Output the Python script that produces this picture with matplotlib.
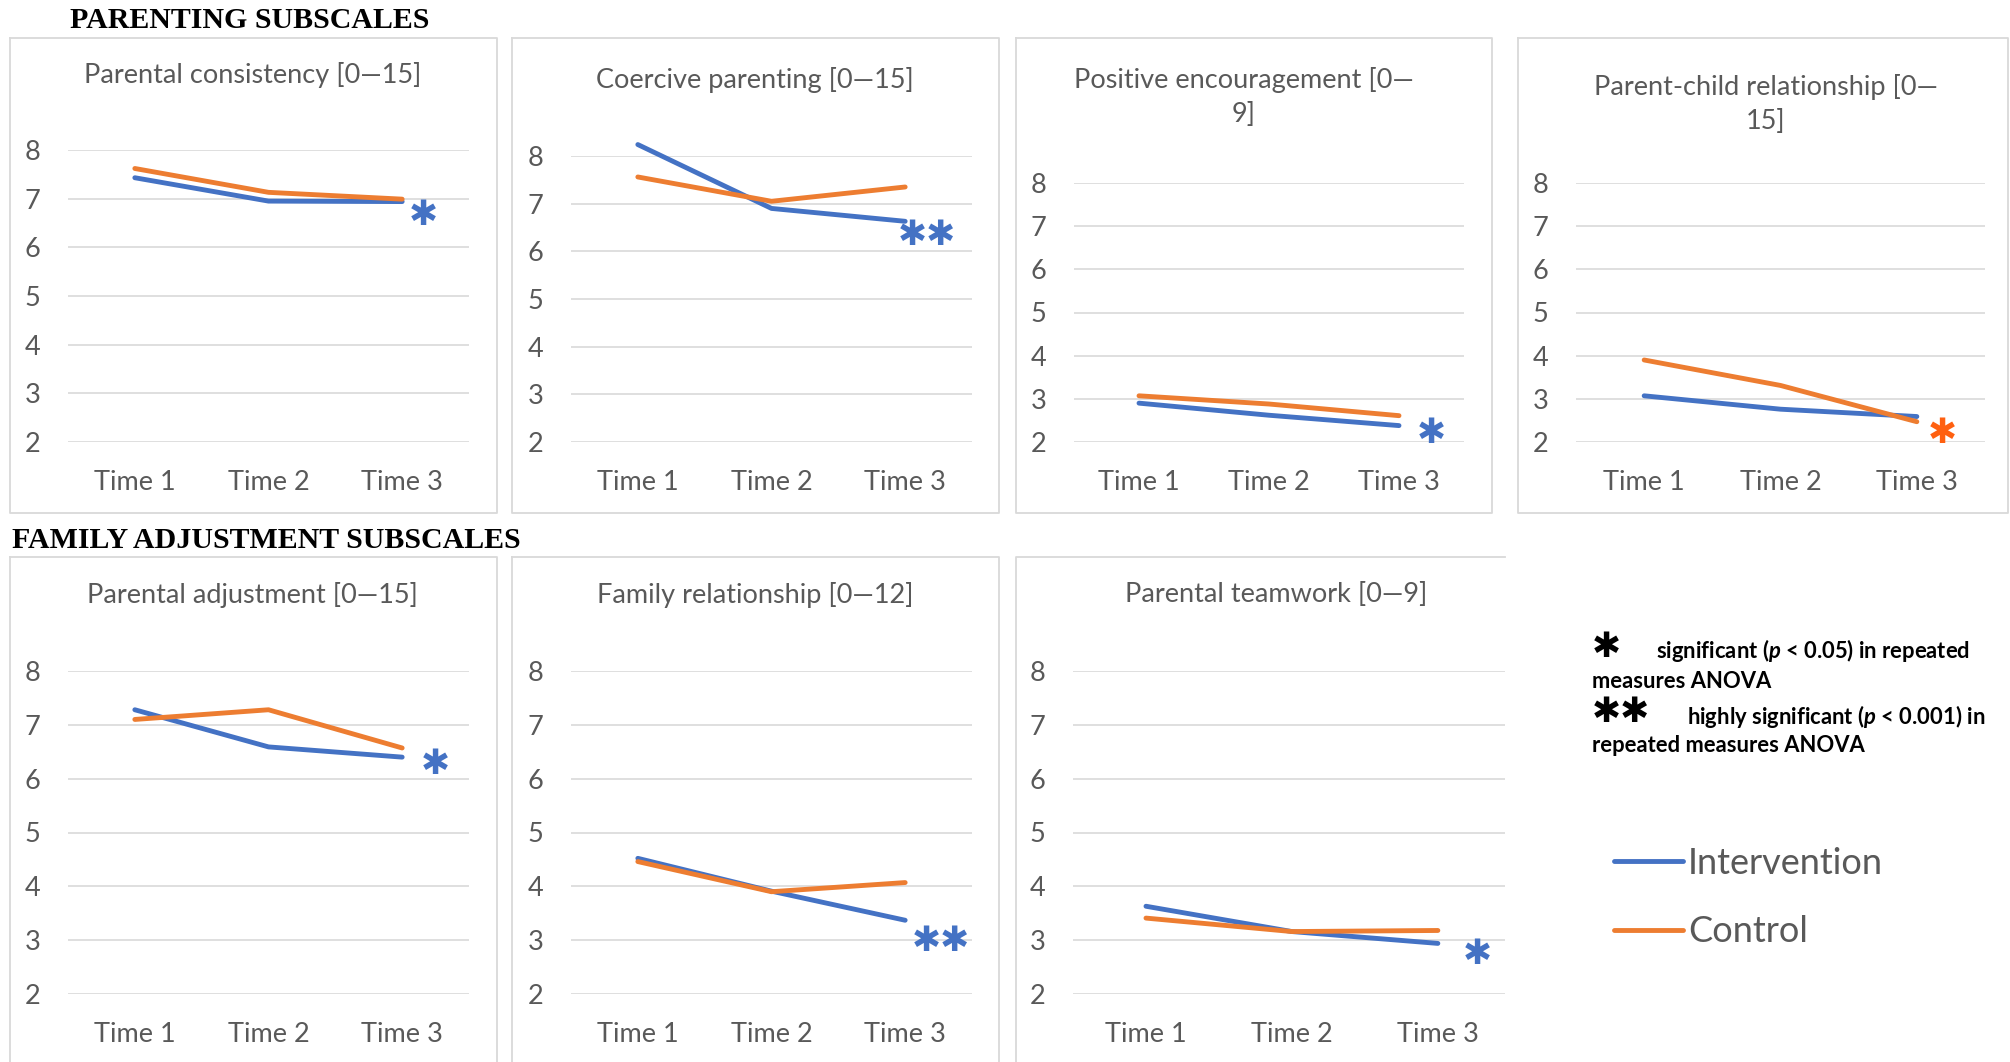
import matplotlib
matplotlib.use('Agg')
import matplotlib.pyplot as plt
from matplotlib.lines import Line2D

plt.rcParams['font.family'] = ['Lato', 'DejaVu Sans']
plt.rcParams['mathtext.fontset'] = 'custom'
plt.rcParams['mathtext.rm'] = 'Lato:bold'
plt.rcParams['mathtext.it'] = 'Lato:italic:bold'

# --- data -----------------------------------------------------------------
times = ['Time 1', 'Time 2', 'Time 3']

titles = [
    'Parental consistency [0\u201415]',
    'Coercive parenting [0\u201415]',
    'Positive encouragement [0\u2014\n9]',
    'Parent-child relationship [0\u2014\n15]',
    'Parental adjustment [0\u201415]',
    'Family relationship [0\u201412]',
    'Parental teamwork [0\u20149]',
]

intervention = [
    [7.43, 6.95, 6.94],
    [8.24, 6.90, 6.63],
    [2.90, 2.62, 2.38],
    [3.07, 2.76, 2.59],
    [7.28, 6.59, 6.40],
    [4.52, 3.91, 3.37],
    [3.63, 3.16, 2.94],
]

control = [
    [7.62, 7.13, 6.99],
    [7.56, 7.05, 7.35],
    [3.07, 2.88, 2.61],
    [3.90, 3.31, 2.47],
    [7.10, 7.28, 6.57],
    [4.46, 3.90, 4.07],
    [3.41, 3.16, 3.18],
]

# significance flag per panel and which group it refers to
sig_marks = ['*', '**', '*', '*', '*', '**', '*']
sig_group = ['Intervention', 'Intervention', 'Intervention', 'Control',
             'Intervention', 'Intervention', 'Intervention']

# --- layout (pixels) --------------------------------------------------------
W, H = 2010, 1062
BLUE = '#4472C4'
ORANGE = '#ED7D31'
STAR_ORANGE = '#FF6010'
GREY = '#595959'


def fx(x):
    return x / W


def fy(y):
    return 1 - y / H


# plot areas: left, right, y of gridline 8, y of gridline 2
plot_rects = [(68, 469, 150, 442), (571, 972, 156, 442), (1074, 1464, 183, 442),
              (1576, 1985, 183, 442), (68, 469, 671, 994), (571, 972, 671, 994),
              (1073, 1505, 671, 994)]
x_right = [2.5, 2.5, 2.5, 2.5, 2.5, 2.5, 2.46]
title_pos = [(253, 75), (755, 80), (1244, 97), (1766, 104), (252, 595),
             (755, 595), (1276, 595)]
star_pos = [(2.155, 6.66), (2.16, 6.34), (2.25, 2.21), (2.19, 2.21),
            (2.245, 6.28), (2.27, 2.98), (2.27, 2.75)]
frames = [(10, 497, 38, 513), (512, 999, 38, 513), (1016, 1492, 38, 513),
          (1518, 2008, 38, 513), (10, 497, 557, 1070), (512, 999, 557, 1070),
          (1016, None, 557, 1070)]

fig = plt.figure(figsize=(W / 100, H / 100), dpi=100)

# light chart frames
for l, r, t, b in frames:
    if r is None:
        xs, ys = [1505, l, l], [t, t, b]
    else:
        xs, ys = [l, r, r, l, l], [t, t, b, b, t]
    fig.add_artist(Line2D([fx(v) for v in xs], [fy(v) for v in ys],
                          color='#D9D9D9', lw=1.3))

handles = None
for i in range(7):
    l, r, t, b = plot_rects[i]
    ax = fig.add_axes([fx(l), fy(b), (r - l) / W, (b - t) / H])
    h1, = ax.plot(times, intervention[i], color=BLUE, lw=3.5,
                  solid_capstyle='round', clip_on=False, label='Intervention')
    h2, = ax.plot(times, control[i], color=ORANGE, lw=3.5,
                  solid_capstyle='round', clip_on=False, label='Control')
    if handles is None:
        handles = [h1, h2]
    ax.set_ylim(2, 8)
    ax.set_xlim(-0.5, x_right[i])
    ax.set_yticks(range(2, 9))
    ax.grid(axis='y', color='#D9D9D9', lw=1.2)
    ax.set_axisbelow(True)
    for s in ax.spines.values():
        s.set_visible(False)
    ax.tick_params(length=0, labelsize=19.5, labelcolor=GREY)
    ax.tick_params(axis='y', pad=20)
    ax.tick_params(axis='x', pad=20.5)

    sx, sy = star_pos[i]
    scol = STAR_ORANGE if sig_group[i] == 'Control' else BLUE
    ax.text(sx, sy, '\u2731' * len(sig_marks[i]), color=scol, fontsize=25,
            family='DejaVu Sans', ha='center', va='center', clip_on=False)

    cx, cy = title_pos[i]
    fig.text(fx(cx), fy(cy), titles[i], ha='center', va='center',
             fontsize=19.5, color=GREY, linespacing=1.45)

# section headers
fig.text(fx(70), fy(21), 'PARENTING SUBSCALES', family='Liberation Serif',
         weight='bold', fontsize=21.5, ha='left', va='center')
fig.text(fx(12), fy(541), 'FAMILY ADJUSTMENT SUBSCALES', family='Liberation Serif',
         weight='bold', fontsize=21.5, ha='left', va='center')

# significance key
fig.text(fx(1606), fy(647), '\u2731', family='DejaVu Sans', fontsize=25,
         ha='center', va='center')
fig.text(fx(1621), fy(712), '\u2731\u2731', family='DejaVu Sans', fontsize=25,
         ha='center', va='center')
key_kw = dict(fontsize=15.8, weight='bold', ha='left', va='center')
fig.text(fx(1656), fy(651), r'significant ($p$ < $\mathit{0.05}$) in repeated', **key_kw)
fig.text(fx(1592), fy(681), 'measures ANOVA', **key_kw)
fig.text(fx(1687), fy(716), r'highly significant ($p$ < $\mathit{0.001}$) in', **key_kw)
fig.text(fx(1592), fy(745), 'repeated measures ANOVA', **key_kw)

# series legend
fig.legend(handles=handles, loc='upper left', bbox_to_anchor=(fx(1614), fy(847)),
           frameon=False, fontsize=26, labelcolor=GREY, handlelength=1.9,
           handletextpad=0.15, labelspacing=0.975, borderpad=0, borderaxespad=0)

fig.savefig('out.png', dpi=100)
